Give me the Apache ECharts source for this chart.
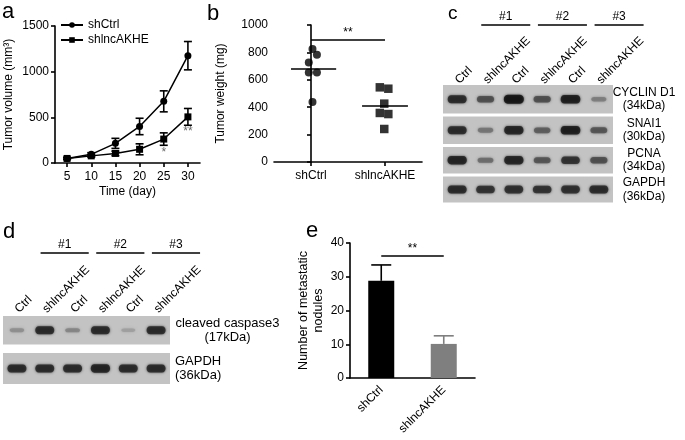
<!DOCTYPE html>
<html><head><meta charset="utf-8">
<script src="https://cdn.jsdelivr.net/npm/echarts@6/dist/echarts.min.js"></script>
<style>html,body{margin:0;padding:0;background:#fff}#c{width:685px;height:440px}</style>
</head><body><div id="c"></div><script>
// ---------- data ----------
const days = ['5', '10', '15', '20', '25', '30'];
const volumeCtrl = [50, 95, 215, 400, 675, 1175];
const volumeCtrlErr = [12, 18, 55, 90, 115, 155];
const volumeKd = [50, 78, 105, 150, 262, 505];
const volumeKdErr = [10, 14, 25, 60, 68, 92];
const volumeStarDays = ['25', '30'];
const volumeStarValues = [115, 345];
const volumeStarText = ['*', '**'];

const groups = ['shCtrl', 'shlncAKHE'];
const weightCtrl = [825, 783, 727, 654, 654, 438];
const weightCtrlJitter = [0.02, 0.08, -0.03, -0.03, 0.08, 0.02];
const weightKd = [545, 535, 426, 358, 350, 241];
const weightKdJitter = [-0.07, 0.045, -0.01, -0.07, 0.045, -0.01];
const weightSigValue = 890;

const noduleMean = [28.8, 10.1];
const noduleErr = [4.7, 2.4];
const noduleSigValue = 36.2;

const lanes = ['Ctrl', 'shlncAKHE', 'Ctrl', 'shlncAKHE', 'Ctrl', 'shlncAKHE'];
const laneGroups = ['#1', '#2', '#3'];
const blotCLabels = ['CYCLIN D1\n(34kDa)', 'SNAI1\n(30kDa)', 'PCNA\n(34kDa)', 'GAPDH\n(36kDa)'];
const bandsCyclinD1 = [0.85, 0.6, 1.0, 0.6, 0.95, 0.3];
const bandsSnai1 = [0.85, 0.35, 0.9, 0.5, 0.95, 0.55];
const bandsPcna = [0.9, 0.4, 0.9, 0.55, 0.8, 0.6];
const bandsGapdhC = [0.85, 0.8, 0.82, 0.8, 0.82, 0.85];
const blotDLabels = ['cleaved caspase3\n(17kDa)', 'GAPDH\n(36kDa)'];
const bandsCaspase3 = [0.2, 0.85, 0.25, 0.85, 0.12, 0.85];
const bandsGapdhD = [0.85, 0.85, 0.85, 0.9, 0.85, 0.85];

// ---------- helpers ----------
const FONT = "'Liberation Sans', Arial, sans-serif";
const BLACK = '#000';
const lineSt = {color: BLACK, width: 1.6};
const plain = (v) => String(v);
const grids = [], xAxes = [], yAxes = [], series = [];
function addGrid(g) { grids.push(Object.assign({containLabel: false, outerBoundsMode: 'none', show: false, borderWidth: 0}, g)); return grids.length - 1; }
function addX(a) { xAxes.push(a); return xAxes.length - 1; }
function addY(a) { yAxes.push(a); return yAxes.length - 1; }
const txt = (size) => ({color: BLACK, fontSize: size, fontFamily: FONT});
const hiddenVal = (gi, min, max) => ({gridIndex: gi, type: 'value', min: min, max: max, show: false});

function errRender(capHalf, colors, bothCaps) {
  return function (params, api) {
    const x = api.value(0), lo = api.value(1), hi = api.value(2);
    const p1 = api.coord([x, lo]), p2 = api.coord([x, hi]);
    const st = {stroke: colors[params.dataIndex % colors.length], lineWidth: 1.6};
    const ch = [
      {type: 'line', shape: {x1: p1[0], y1: p1[1], x2: p2[0], y2: p2[1]}, style: st},
      {type: 'line', shape: {x1: p2[0] - capHalf, y1: p2[1], x2: p2[0] + capHalf, y2: p2[1]}, style: st}
    ];
    if (bothCaps) ch.push({type: 'line', shape: {x1: p1[0] - capHalf, y1: p1[1], x2: p1[0] + capHalf, y2: p1[1]}, style: st});
    return {type: 'group', children: ch};
  };
}

// ---------- panel a ----------
const gA = addGrid({left: 55, top: 26, width: 145, height: 137});
const xA = addX({gridIndex: gA, type: 'category', data: days, boundaryGap: true,
  axisLine: {show: true, lineStyle: lineSt}, axisTick: {show: true, alignWithLabel: true, length: 4, lineStyle: lineSt},
  axisLabel: Object.assign({interval: 0, margin: 8}, txt(12)), splitLine: {show: false},
  name: 'Time (day)', nameLocation: 'middle', nameGap: 23, nameTextStyle: txt(12)});
const yA = addY({gridIndex: gA, type: 'value', min: 0, max: 1500, interval: 500,
  axisLine: {show: true, lineStyle: lineSt}, axisTick: {show: true, length: 4, lineStyle: lineSt},
  axisLabel: Object.assign({margin: 6, formatter: plain}, txt(12)), splitLine: {show: false},
  name: 'Tumor volume (mm³)', nameLocation: 'middle', nameGap: 40, nameTextStyle: txt(12)});
series.push({type: 'line', name: 'shCtrl', xAxisIndex: xA, yAxisIndex: yA, data: volumeCtrl,
  symbol: 'circle', symbolSize: 7, lineStyle: {color: BLACK, width: 1.5}, itemStyle: {color: BLACK}, z: 4});
series.push({type: 'line', name: 'shlncAKHE', xAxisIndex: xA, yAxisIndex: yA, data: volumeKd,
  symbol: 'rect', symbolSize: 7, lineStyle: {color: BLACK, width: 1.5}, itemStyle: {color: BLACK}, z: 4});
series.push({type: 'custom', xAxisIndex: xA, yAxisIndex: yA, renderItem: errRender(4, [BLACK], true), encode: {x: 0, y: [1, 2]},
  data: volumeCtrl.map((v, i) => [i, v - volumeCtrlErr[i], v + volumeCtrlErr[i]]), z: 3});
series.push({type: 'custom', xAxisIndex: xA, yAxisIndex: yA, renderItem: errRender(4, [BLACK], true), encode: {x: 0, y: [1, 2]},
  data: volumeKd.map((v, i) => [i, v - volumeKdErr[i], v + volumeKdErr[i]]), z: 3});
series.push({type: 'scatter', xAxisIndex: xA, yAxisIndex: yA, symbolSize: 0, silent: true,
  data: volumeStarDays.map((d, i) => ({value: [d, volumeStarValues[i]], label: {formatter: volumeStarText[i]}})),
  label: Object.assign({show: true, position: 'inside'}, txt(12), {color: '#444'})});

// ---------- panel b ----------
const gB = addGrid({left: 274, top: 25, width: 148, height: 137});
const xB = addX({gridIndex: gB, type: 'category', data: groups, boundaryGap: true,
  axisLine: {show: true, lineStyle: lineSt}, axisTick: {show: true, alignWithLabel: true, length: 4, lineStyle: lineSt},
  axisLabel: Object.assign({interval: 0, margin: 8}, txt(12)), splitLine: {show: false}});
const xB2 = addX(hiddenVal(gB, -0.5, 1.5));
const yB = addY({gridIndex: gB, type: 'value', min: 0, max: 1000, interval: 200,
  axisLine: {show: true, lineStyle: lineSt}, axisTick: {show: true, length: 4, lineStyle: lineSt},
  axisLabel: Object.assign({margin: 6, formatter: plain}, txt(12)), splitLine: {show: false},
  name: 'Tumor weight (mg)', nameLocation: 'middle', nameGap: 47, nameTextStyle: txt(12)});
const mean = (a) => a.reduce((s, v) => s + v, 0) / a.length;
const mCtrl = mean(weightCtrl), mKd = mean(weightKd);
const mlStyle = {color: BLACK, width: 1.5, type: 'solid'};
series.push({type: 'scatter', xAxisIndex: xB2, yAxisIndex: yB, symbol: 'circle', symbolSize: 8,
  itemStyle: {color: BLACK}, data: weightCtrl.map((v, i) => [0 + weightCtrlJitter[i], v]),
  markLine: {silent: true, symbol: 'none', lineStyle: mlStyle, animation: false, data: [
    [{coord: [-0.27, mCtrl], label: {show: false}}, {coord: [0.34, mCtrl]}],
    [{coord: [0, weightSigValue], label: Object.assign({show: true, position: 'insideMiddleTop', formatter: '**', distance: 1}, txt(12))}, {coord: [1, weightSigValue]}]
  ]}});
series.push({type: 'scatter', xAxisIndex: xB2, yAxisIndex: yB, symbol: 'rect', symbolSize: 8.5,
  itemStyle: {color: BLACK}, data: weightKd.map((v, i) => [1 + weightKdJitter[i], v]),
  markLine: {silent: true, symbol: 'none', lineStyle: mlStyle, animation: false, label: {show: false}, data: [
    [{coord: [0.69, mKd]}, {coord: [1.31, mKd]}]
  ]}});

// ---------- panel e ----------
const barColors = ['#000000', '#7f7f7f'];
const gE = addGrid({left: 350, top: 243, width: 125, height: 135});
const xE = addX({gridIndex: gE, type: 'category', data: groups, boundaryGap: true,
  axisLine: {show: true, lineStyle: lineSt}, axisTick: {show: false},
  axisLabel: Object.assign({interval: 0, margin: 10, rotate: 45}, txt(12)), splitLine: {show: false}});
const yE = addY({gridIndex: gE, type: 'value', min: 0, max: 40, interval: 10,
  axisLine: {show: true, lineStyle: lineSt}, axisTick: {show: true, length: 4, lineStyle: lineSt},
  axisLabel: Object.assign({margin: 6, formatter: plain}, txt(12)), splitLine: {show: false},
  name: 'Number of metastatic\nnodules', nameLocation: 'middle', nameGap: 24,
  nameTextStyle: Object.assign({lineHeight: 15, align: 'center'}, txt(12.5))});
series.push({type: 'bar', xAxisIndex: xE, yAxisIndex: yE, barWidth: 26,
  data: noduleMean.map((v, i) => ({value: v, itemStyle: {color: barColors[i]}})),
  markLine: {silent: true, symbol: 'none', lineStyle: mlStyle, animation: false, data: [
    [{coord: [groups[0], noduleSigValue], label: Object.assign({show: true, position: 'insideMiddleTop', formatter: '**', distance: 1}, txt(12))}, {coord: [groups[1], noduleSigValue]}]
  ]}});
series.push({type: 'custom', xAxisIndex: xE, yAxisIndex: yE, renderItem: errRender(10, barColors, false), encode: {x: 0, y: [1, 2]},
  data: noduleMean.map((v, i) => [i, v, v + noduleErr[i]]), z: 1});

// ---------- blots ----------
const BLOT_BG = '#c3c3c3';
const bandPath = 'path://M4,0H16C21,0 21,8 16,8H4C-1,8 -1,0 4,0Z';
function bandItem(lane, k) {
  const g = Math.round(192 - 178 * Math.pow(k, 0.75));
  const c = 'rgb(' + g + ',' + g + ',' + g + ')';
  return {value: [lane, 0], symbolSize: [13 + 7 * k, 2.5 + 6.5 * k], itemStyle: {color: c, shadowBlur: 2.5, shadowColor: c}};
}
function addBlot(cfg) {
  cfg.rows.forEach((row, r) => {
    const gi = addGrid({left: cfg.left, width: cfg.width, top: row.top, height: row.height, show: true, backgroundColor: BLOT_BG, borderWidth: 0});
    const xi = addX(hiddenVal(gi, -0.5, lanes.length - 0.5));
    if (r === 0) {
      addX({gridIndex: gi, type: 'category', position: 'top', data: lanes, boundaryGap: true,
        axisLine: {show: false}, axisTick: {show: false}, splitLine: {show: false},
        axisLabel: Object.assign({interval: 0, rotate: -45, margin: cfg.laneMargin}, txt(12))});
    }
    const yi = addY({gridIndex: gi, type: 'category', position: 'right', data: [row.label],
      axisLine: {show: false}, axisTick: {show: false}, splitLine: {show: false},
      axisLabel: Object.assign({interval: 0, align: row.align, margin: row.margin, lineHeight: cfg.lineHeight}, txt(cfg.labelSize))});
    series.push({type: 'scatter', xAxisIndex: xi, yAxisIndex: yi, symbol: bandPath, silent: true,
      data: row.bands.map((k, i) => bandItem(i, k))});
  });
  // group headers (#1, #2, #3)
  const gh = addGrid({left: cfg.left, width: cfg.width, top: cfg.headerTop, height: 10});
  const xh = addX(hiddenVal(gh, -0.5, lanes.length - 0.5));
  const yh = addY(hiddenVal(gh, 0, 1));
  series.push({type: 'custom', xAxisIndex: xh, yAxisIndex: yh, clip: false, silent: true,
    encode: {x: [0, 1], y: 2},
    data: laneGroups.map((t, k) => [2 * k + 0.85, 2 * k + 2.58, 0, t]),
    renderItem: function (params, api) {
      const a = api.coord([api.value(0), 0]), b = api.coord([api.value(1), 0]);
      const label = laneGroups[params.dataIndex];
      return {type: 'group', children: [
        {type: 'line', shape: {x1: a[0], y1: a[1], x2: b[0], y2: b[1]}, style: {stroke: BLACK, lineWidth: 1.5}},
        {type: 'text', x: (a[0] + b[0]) / 2, y: a[1] - 2,
          style: {text: label, fill: BLACK, fontSize: 12, fontFamily: FONT, align: 'center', verticalAlign: 'bottom', textAlign: 'center', textVerticalAlign: 'bottom'}}
      ]};
    }});
}
addBlot({left: 443, width: 170, laneMargin: 3, headerTop: 15, labelSize: 12, lineHeight: 13.5, rows: [
  {top: 85, height: 28.5, label: blotCLabels[0], bands: bandsCyclinD1, align: 'center', margin: 31},
  {top: 116.5, height: 27.5, label: blotCLabels[1], bands: bandsSnai1, align: 'center', margin: 31},
  {top: 147, height: 26.5, label: blotCLabels[2], bands: bandsPcna, align: 'center', margin: 31},
  {top: 176.5, height: 26, label: blotCLabels[3], bands: bandsGapdhC, align: 'center', margin: 31}
]});
addBlot({left: 3, width: 167, laneMargin: 5, headerTop: 243, labelSize: 13, lineHeight: 14, rows: [
  {top: 316, height: 28.5, label: blotDLabels[0], bands: bandsCaspase3, align: 'center', margin: 57.5},
  {top: 353, height: 31, label: blotDLabels[1], bands: bandsGapdhD, align: 'left', margin: 5}
]});

// ---------- option ----------
const letter = (t, l, tp, s) => ({text: t, left: l, top: tp, padding: 0, textStyle: {color: BLACK, fontSize: s, fontWeight: 'normal', fontFamily: FONT}});
const option = {
  animation: false,
  backgroundColor: '#fff',
  textStyle: {fontFamily: FONT},
  title: [letter('a', 2, 1, 22), letter('b', 207, 3, 22), letter('c', 448, 4, 19), letter('d', 3, 221, 22), letter('e', 306, 220, 22)],
  legend: {data: ['shCtrl', 'shlncAKHE'], left: 60, top: 19, orient: 'vertical', itemWidth: 22, itemHeight: 7, itemGap: 3,
    padding: 0, selectedMode: false, textStyle: txt(12)},
  grid: grids, xAxis: xAxes, yAxis: yAxes, series: series
};
const chart = echarts.init(document.getElementById('c'), null, {renderer: 'canvas'});
chart.setOption(option);
</script></body></html>
